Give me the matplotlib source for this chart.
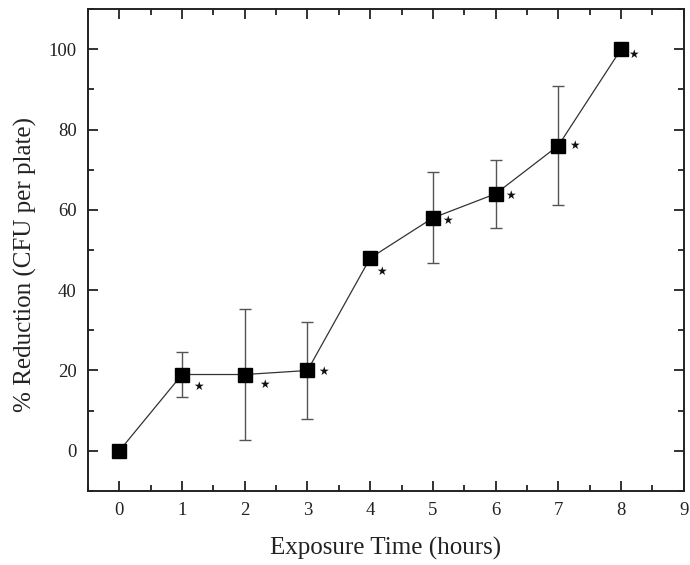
import matplotlib
matplotlib.use("Agg")
import matplotlib.pyplot as plt
from matplotlib.ticker import MultipleLocator

# data
hours = [0, 1, 2, 3, 4, 5, 6, 7, 8]
reduction = [0, 19, 19, 20, 48, 58, 64, 76, 100]
sd = [0, 5.7, 16.3, 12.0, 0, 11.3, 8.5, 14.8, 0]
significant = [False, True, True, True, True, True, True, True, True]

# where each star sits relative to its point (pixels, right / down)
star_dx = [0, 16, 20, 16, 11, 15, 15, 16, 12]
star_dy = [0, 12, 10, 1, 13, 3, 2, 0, 5]

plt.rcParams["font.family"] = ["Liberation Serif", "DejaVu Serif"]

fig = plt.figure(figsize=(6.9, 5.65), dpi=100)
ax = fig.add_axes([0.1275, 0.131, 0.8635, 0.853])

ax.errorbar(hours, reduction, yerr=sd, fmt="none", ecolor="#555555",
            elinewidth=1.0, capsize=4, capthick=1.0, zorder=2)
ax.plot(hours, reduction, color="#333333", lw=0.9, marker="s",
        markersize=9.5, markerfacecolor="black", markeredgecolor="black",
        zorder=3)

for x, y, s, dx, dy in zip(hours, reduction, significant, star_dx, star_dy):
    if s:
        ax.annotate("\u2605", (x, y), xytext=(dx, -dy), textcoords="offset pixels",
                    ha="center", va="center", fontsize=8.5,
                    family="DejaVu Sans", color="#111111")

ax.set_xlim(-0.5, 9)
ax.set_ylim(-10, 110)
ax.xaxis.set_major_locator(MultipleLocator(1))
ax.xaxis.set_minor_locator(MultipleLocator(0.5))
ax.yaxis.set_major_locator(MultipleLocator(20))
ax.yaxis.set_minor_locator(MultipleLocator(10))
ax.tick_params(which="both", direction="in", top=True, right=True,
               width=1.3, labelsize=13.5, colors="#222222")
ax.tick_params(which="major", length=7, pad=8)
ax.tick_params(which="minor", length=4)
for sp in ax.spines.values():
    sp.set_linewidth(1.4)
    sp.set_color("#222222")

ax.set_xlabel("Exposure Time (hours)", fontsize=18, labelpad=13, color="#222222")
ax.set_ylabel("% Reduction (CFU per plate)", fontsize=18, color="#222222")
ax.yaxis.set_label_coords(-0.086, 0.47)

fig.savefig("out.png", dpi=100)
